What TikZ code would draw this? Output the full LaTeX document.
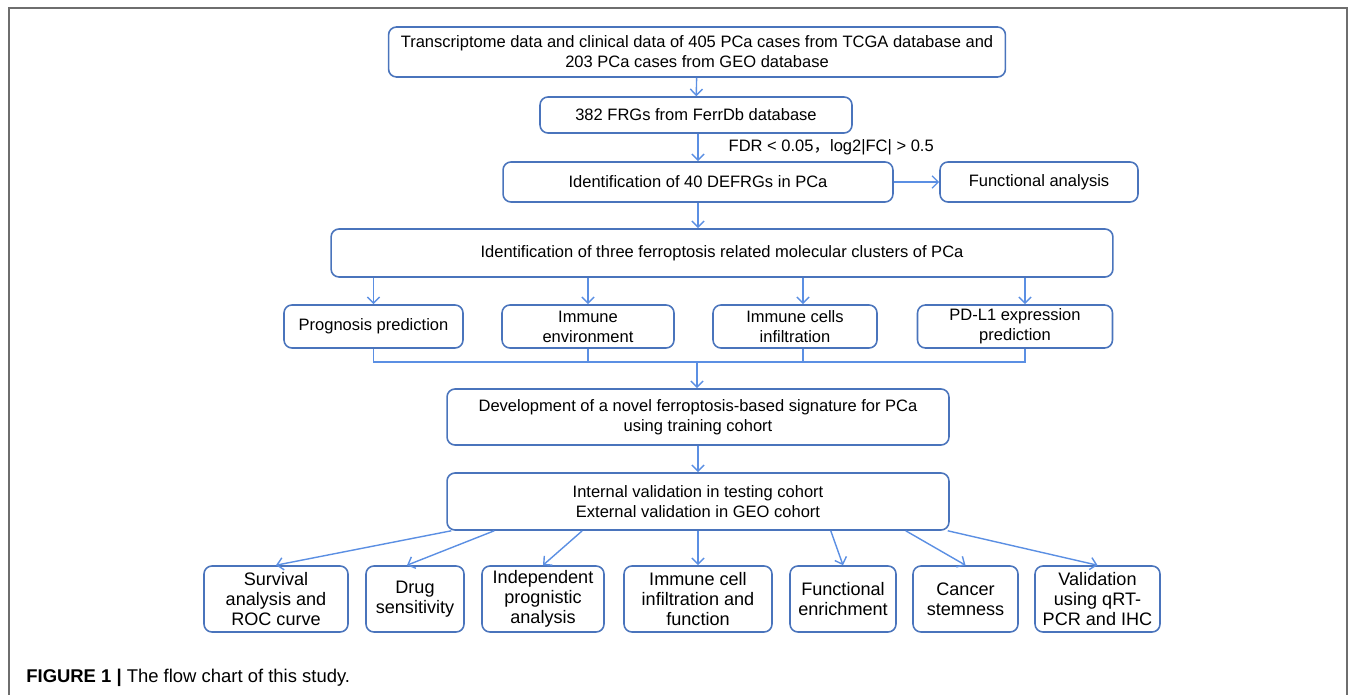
\documentclass[tikz,border=0pt]{standalone}
\usepackage{fontspec}
\setmainfont{Liberation Sans}
\newfontfamily\cjk{Noto Sans CJK SC}
\usetikzlibrary{arrows.meta}
\definecolor{boxblue}{HTML}{4A74BC}
\definecolor{arrblue}{HTML}{5B8FE3}
\definecolor{framegray}{HTML}{6E6E6E}

\begin{document}
\begin{tikzpicture}[x=0.02cm, y=-0.02cm,
	blk/.style={draw=boxblue, line width=0.9pt, rounded corners=4.5pt, align=center, inner sep=0pt, font=\fontsize{9.4}{11.4}\selectfont},
	mid/.style={blk, minimum height=0.86cm},
	low/.style={blk, minimum height=1.32cm, font=\fontsize{10.3}{11.5}\selectfont},
	arr/.style={draw=arrblue, line width=0.8pt, -{Straight Barb[length=3.5pt,width=7pt]}},
	ln/.style={draw=arrblue, line width=0.8pt}]
	\useasboundingbox (0,0) rectangle (1355,695);
	\draw[framegray, line width=1pt] (9,695) -- (9,8) -- (1347,8) -- (1347,695);

	\node (src) [blk, minimum width=12.34cm, minimum height=1cm] at (697,52) {Transcriptome data and clinical data of 405 PCa cases from TCGA database and\\203 PCa cases from GEO database};
	\node (frg) [blk, minimum width=6.24cm, minimum height=0.72cm] at (696,115) {382 FRGs from FerrDb database};
	\node (defrg) [blk, minimum width=7.8cm, minimum height=0.8cm] at (698,182) {Identification of 40 DEFRGs in PCa};
	\node (func) [blk, minimum width=3.96cm, minimum height=0.8cm] at (1039,182) {Functional analysis};
	\node (clus) [blk, minimum width=15.64cm, minimum height=0.96cm] at (722,253) {Identification of three ferroptosis related molecular clusters of PCa};
	\node (prog) [mid, minimum width=3.58cm] at (373.5,326.5) {Prognosis prediction};
	\node (env) [mid, minimum width=3.44cm] at (588,326.5) {Immune\\environment};
	\node (cells) [mid, minimum width=3.28cm] at (795,326.5) {Immune cells\\infiltration};
	\node (pdl) [mid, minimum width=3.9cm] at (1015,326.5) {PD-L1 expression\\prediction};
	\coordinate (join) at (697,362);
	\node (dev) [blk, minimum width=10.04cm, minimum height=1.12cm] at (698,417) {Development of a novel ferroptosis-based signature for PCa\\using training cohort};
	\node (val) [blk, minimum width=10.04cm, minimum height=1.14cm] at (698,501.5) {Internal validation in testing cohort\\External validation in GEO cohort};
	\node (surv) [low, minimum width=2.88cm] at (276,599) {Survival\\analysis and\\ROC curve};
	\node (drug) [low, minimum width=1.96cm] at (415,599) {Drug\\sensitivity};
	\node (indep) [low, minimum width=2.44cm] at (543,599) {Independent\\prognistic\\analysis};
	\node (immf) [low, minimum width=2.96cm] at (698,599) {Immune cell\\infiltration and\\function};
	\node (fenr) [low, minimum width=2.12cm] at (843,599) {Functional\\enrichment};
	\node (stem) [low, minimum width=2.1cm] at (965.5,599) {Cancer\\stemness};
	\node (qpcr) [low, minimum width=2.5cm] at (1097.5,599) {Validation\\using qRT-\\PCR and IHC};
	\node (cap) [anchor=west, inner sep=0pt, font=\fontsize{10.5}{12.5}\selectfont] at (26,678) {\textbf{FIGURE 1 |} The flow chart of this study.};

	\draw[arr] (src) -- (frg);
	\draw[arr] (frg.south -| defrg) to node [anchor=west, inner sep=0pt, xshift=0.6cm, text=black, font=\fontsize{9.4}{11.4}\selectfont] {FDR < 0.05{\cjk ，}log2|FC| > 0.5} (defrg);
	\draw[arr] (defrg) -- (func);
	\draw[arr] (defrg.south) -- (defrg.south |- clus.north);
	\foreach \n/\s in {prog/0,env/0,cells/0.16,pdl/0.2}
		\draw[arr] ([xshift=\s cm]\n.north |- clus.south) -- ([xshift=\s cm]\n.north);
	\draw[ln] (prog.south) |- (join) -| ([xshift=0.2cm]pdl.south);
	\draw[ln] (env.south) -- (env.south |- join);
	\draw[ln] ([xshift=0.16cm]cells.south) -- ([xshift=0.16cm]cells.south |- join);
	\draw[arr] (join) -- (join |- dev.north);
	\draw[arr] (dev) -- (val);
	\draw[arr] ([xshift=0.1cm]val.south west) -- (surv.north);
	\draw[arr] ([xshift=0.96cm]val.south west) -- ([xshift=-0.16cm]drug.north);
	\draw[arr] ([xshift=2.72cm]val.south west) -- (indep.north);
	\draw[arr] (val) -- (immf);
	\draw[arr] ([xshift=-2.38cm]val.south east) -- (fenr.north);
	\draw[arr] ([xshift=-0.88cm]val.south east) -- (stem.north);
	\draw[arr] ([xshift=-0.04cm]val.south east) -- (qpcr.north);
\end{tikzpicture}
\end{document}
